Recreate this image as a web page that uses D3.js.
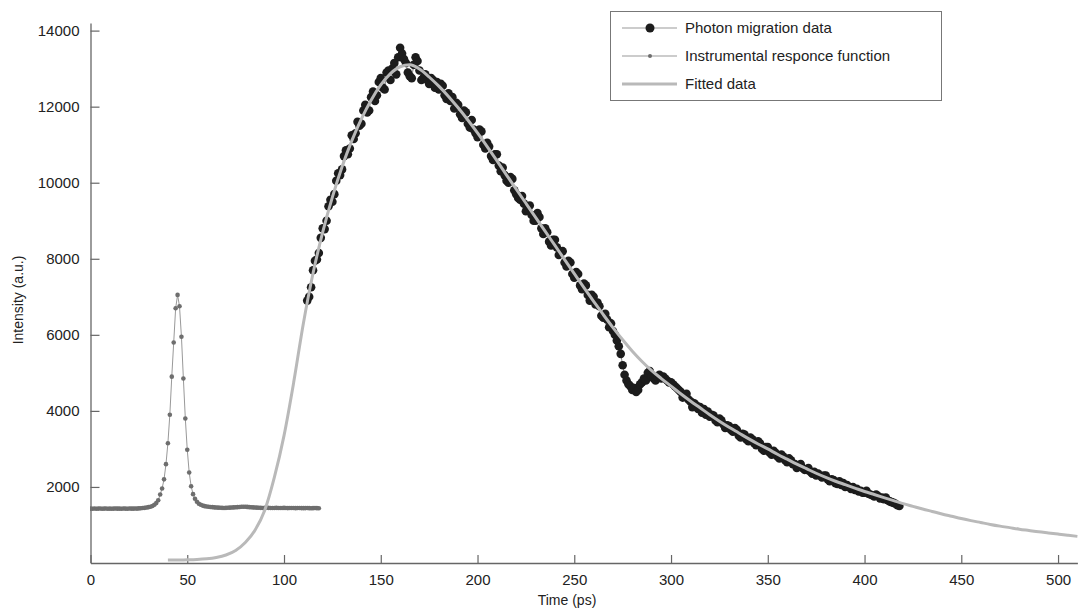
<!DOCTYPE html>
<html>
<head>
<meta charset="utf-8">
<script src="https://cdn.jsdelivr.net/npm/d3@7"></script>
<style>
  body { margin: 0; background: #fff; }
  text { font-family: "Liberation Sans", Arial, sans-serif; fill: #222; }
</style>
</head>
<body>
<div id="chart"></div>
<script>
const width = 1078
const height = 609

// x ticks / y ticks
const xTicks = [0, 50, 100, 150, 200, 250, 300, 350, 400, 450, 500]
const yTicks = [2000, 4000, 6000, 8000, 10000, 12000, 14000]

// instrumental response function, t = 0..118 ps, 1 ps step
const irfStart = 0, irfStep = 1
const irfValues = [
  1430, 1425, 1432, 1428, 1430, 1435, 1427, 1430, 1433, 1428,
  1430, 1426, 1431, 1434, 1429, 1430, 1427, 1432, 1430, 1428,
  1433, 1430, 1429, 1435, 1431, 1436, 1440, 1445, 1450, 1458,
  1468, 1480, 1500, 1530, 1575, 1650, 1800, 1960, 2200, 2600,
  3150, 3900, 4900, 5800, 6700, 7050, 6750, 5950, 4850, 3800,
  2980, 2380, 2020, 1810, 1690, 1610, 1560, 1530, 1510, 1495,
  1485, 1478, 1472, 1468, 1462, 1458, 1455, 1452, 1450, 1448,
  1450, 1452, 1455, 1458, 1462, 1466, 1470, 1474, 1478, 1480,
  1478, 1475, 1470, 1466, 1462, 1458, 1455, 1452, 1450, 1448,
  1450, 1452, 1450, 1448, 1446, 1448, 1450, 1447, 1445, 1447,
  1449, 1446, 1444, 1446, 1448, 1445, 1443, 1445, 1447, 1444,
  1442, 1444, 1446, 1443, 1441, 1443, 1445, 1442, 1440
]

// photon migration data, t = 112..418 ps, 1 ps step
const dataStart = 112, dataStep = 1
const dataValues = [
  6900, 7000, 7250, 7700, 7950, 7980, 8150, 8550,
  8800, 8780, 9000, 9380, 9550, 9500, 9700, 10050, 10250, 10200,
  10350, 10700, 10850, 10750, 10900, 11250, 11150, 11300, 11600, 11500,
  11550, 11900, 12050, 11850, 11900, 12250, 12400, 12150, 12300, 12650,
  12750, 12500, 12450, 12900, 12950, 12700, 13000, 13150, 12850, 13300,
  13550, 13400, 13250, 13150, 12900, 12800, 12750, 13100, 13300, 13200,
  12950, 12700, 12750, 12850, 12700, 12600, 12750, 12700, 12500, 12650,
  12450, 12600, 12550, 12300, 12200, 12350, 12150, 12250, 11950, 12100,
  12050, 11800, 11700, 11900, 11850, 11550, 11450, 11650, 11400, 11300,
  11200, 11400, 11350, 11000, 10900, 11050, 10950, 10700, 10600, 10750,
  10750, 10450, 10300, 10400, 10200, 10050, 10000, 10150, 10100, 9800,
  9700, 9600, 9550, 9650, 9450, 9250, 9300, 9400, 9150, 9000,
  9000, 9200, 9100, 8800, 8650, 8800, 8700, 8450, 8350, 8500,
  8500, 8300, 8100, 8150, 8200, 7900, 7800, 7950, 7900, 7600,
  7500, 7650, 7600, 7300, 7200, 7350, 7300, 7050, 6900, 7050,
  7000, 6800, 6850, 6750, 6500, 6450, 6550, 6400, 6200, 6300,
  6100, 6000, 5850, 5700, 5500, 5200, 4950, 4800, 4700, 4650,
  4550, 4600, 4500, 4550, 4700, 4750, 4850, 4800, 5000, 5050,
  4900, 4850, 4800, 4900, 4950, 4850, 4900, 4850, 4800, 4750,
  4750, 4700, 4650, 4600, 4550, 4500, 4350, 4400, 4450, 4300,
  4250, 4100, 4200, 4150, 4050, 4100, 3950, 4050, 3900, 3980,
  3850, 3900, 3880, 3750, 3700, 3800, 3750, 3650, 3550, 3620,
  3600, 3500, 3450, 3550, 3500, 3350, 3300, 3400, 3380, 3250,
  3200, 3300, 3250, 3150, 3100, 3200, 3150, 3000, 2950, 3050,
  3050, 2900, 2850, 2950, 2900, 2800, 2750, 2850, 2800, 2700,
  2650, 2750, 2700, 2600, 2600, 2500, 2550, 2600, 2500, 2450,
  2450, 2500, 2400, 2350, 2400, 2300, 2350, 2300, 2250, 2300,
  2300, 2200, 2150, 2200, 2180, 2100, 2080, 2150, 2050, 2100,
  2000, 2050, 2000, 1950, 2000, 1920, 1950, 1880, 1900, 1850,
  1850, 1900, 1820, 1800, 1780, 1750, 1800, 1760, 1700, 1720,
  1680, 1720, 1650, 1620, 1600, 1580, 1560, 1520, 1500
]

// fitted curve, t = 40..510 ps, 5 ps step
const fitStart = 40, fitStep = 5
const fitValues = [
  78, 80, 84, 92, 110, 145, 210, 330, 540, 860,
  1380, 2250, 3350, 4750, 6300, 7620, 8700, 9620, 10420, 11100,
  11680, 12170, 12570, 12870, 13050, 13100, 12990, 12780, 12540, 12270,
  11970, 11650, 11310, 10950, 10580, 10200, 9830, 9460, 9090, 8720,
  8350, 7980, 7610, 7240, 6880, 6530, 6190, 5870, 5570, 5300,
  5060, 4850, 4650, 4450, 4260, 4080, 3900, 3730, 3570, 3420,
  3270, 3130, 3000, 2860, 2730, 2600, 2480, 2360, 2250, 2150,
  2060, 1970, 1880, 1800, 1720, 1640, 1560, 1490, 1420, 1355,
  1290, 1230, 1170, 1115, 1065, 1015, 970, 930, 890, 855,
  820, 790, 760, 730, 700
]

const legendLabels = ["Photon migration data", "Instrumental responce function", "Fitted data"]

const toPoints = (start, step, vals) => vals.map((v, i) => ({ t: start + i * step, v: v }))
const irf = toPoints(irfStart, irfStep, irfValues)
const photon = toPoints(dataStart, dataStep, dataValues)
const fitted = toPoints(fitStart, fitStep, fitValues)

const svg = d3.select("#chart").append("svg")
    .attr("width", width)
    .attr("height", height)

const x = d3.scaleLinear().domain([0, 510]).range([90.5, 1077.4])
const y = d3.scaleLinear().domain([0, 14200]).range([563, 23])

svg.append("clipPath").attr("id", "plotclip")
  .append("rect").attr("x", 90).attr("y", 0).attr("width", width - 90).attr("height", 563)

const line = d3.line().x(d => x(d.t)).y(d => y(d.v))

// axes
const yAxis = d3.axisLeft(y).tickValues(yTicks).tickFormat(d3.format("d"))
    .tickSizeInner(-9).tickSizeOuter(0).tickPadding(11)
const xAxis = d3.axisBottom(x).tickValues(xTicks).tickFormat(d3.format("d"))
    .tickSizeInner(-8).tickSizeOuter(0).tickPadding(11)

const gy = svg.append("g").attr("transform", "translate(90.5,0)").call(yAxis)
const gx = svg.append("g").attr("transform", "translate(0,563)").call(xAxis)
;[gx, gy].forEach(g => {
  g.select(".domain").attr("stroke", "#666").attr("stroke-width", 1.3)
  g.selectAll(".tick line").attr("stroke", "#666").attr("stroke-width", 1.2)
  g.selectAll(".tick text").style("font-size", "15px").attr("fill", "#222")
})

svg.append("text")
    .attr("x", 567).attr("y", 605)
    .attr("text-anchor", "middle")
    .style("font-size", "14px")
    .text("Time (ps)")

svg.append("text")
    .attr("transform", "translate(23,300) rotate(-90)")
    .attr("text-anchor", "middle")
    .style("font-size", "14px")
    .text("Intensity (a.u.)")

const plot = svg.append("g").attr("clip-path", "url(#plotclip)")

// IRF
plot.append("path").datum(irf)
    .attr("d", line).attr("fill", "none").attr("stroke", "#999").attr("stroke-width", 1)
plot.append("g").selectAll("circle").data(irf).enter().append("circle")
    .attr("cx", d => x(d.t)).attr("cy", d => y(d.v)).attr("r", 2.3)
    .attr("fill", "#6e6e6e")

// photon migration data
plot.append("path").datum(photon)
    .attr("d", line).attr("fill", "none").attr("stroke", "#888").attr("stroke-width", 1)
plot.append("g").selectAll("circle").data(photon).enter().append("circle")
    .attr("cx", d => x(d.t)).attr("cy", d => y(d.v)).attr("r", 4.3)
    .attr("fill", "#1c1c1c")

// fitted curve
plot.append("path").datum(fitted)
    .attr("d", line.curve(d3.curveMonotoneX))
    .attr("fill", "none").attr("stroke", "#b9b9b9").attr("stroke-width", 3)

// legend
const lg = svg.append("g")
lg.append("rect").attr("x", 610.5).attr("y", 11.5).attr("width", 331).attr("height", 89)
    .attr("fill", "#fff").attr("stroke", "#777").attr("stroke-width", 1)

legendLabels.forEach((label, i) => {
  const ly = 28 + i * 28
  const row = lg.append("g")
  row.append("line").attr("x1", 622).attr("x2", 677).attr("y1", ly).attr("y2", ly)
      .attr("stroke", i === 2 ? "#b9b9b9" : "#999").attr("stroke-width", i === 2 ? 3 : 1)
  if (i === 0) row.append("circle").attr("cx", 650).attr("cy", ly).attr("r", 4.5).attr("fill", "#1c1c1c")
  if (i === 1) row.append("circle").attr("cx", 650).attr("cy", ly).attr("r", 2).attr("fill", "#6e6e6e")
  row.append("text").attr("x", 685).attr("y", ly).attr("dy", "0.35em")
      .style("font-size", "15px").text(label)
})
</script>
</body>
</html>
